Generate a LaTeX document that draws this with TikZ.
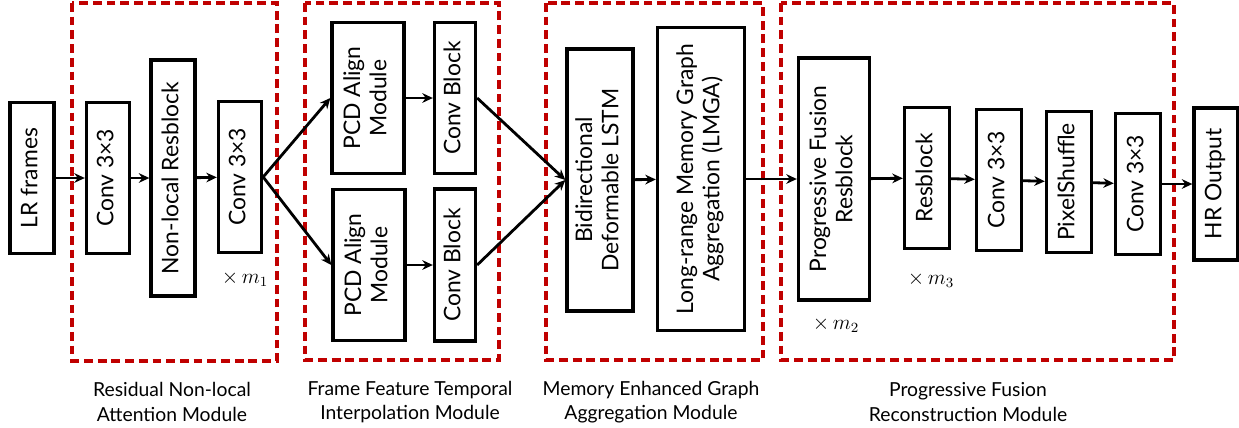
\documentclass[tikz,border=0pt]{standalone}
\usepackage{fontspec}
\setmainfont{Lato}
\usepackage{graphicx}
\usetikzlibrary{arrows.meta}
\definecolor{modred}{RGB}{192,0,0}
\newcommand{\vtext}[1]{\rotatebox{90}{\begin{tabular}{@{}c@{}}#1\end{tabular}}}
\tikzset{
  blk/.style 2 args={draw, line width=1.9pt, inner sep=0pt, minimum width=#1*0.02cm, minimum height=#2*0.02cm, font=\fontsize{13}{15}\selectfont},
  grp/.style={draw=modred, line width=1.9pt, dash pattern=on 5pt off 2.8pt},
  modname/.style={align=center, font=\fontsize{11}{14}\selectfont},
  times/.style={font=\fontsize{12}{14}\selectfont},
}

\begin{document}
\begin{tikzpicture}[>={Stealth[length=6pt,width=5.5pt]}, x=0.02cm, y=-0.02cm, line width=1.6pt]
            \useasboundingbox (0,0) rectangle (1239,427);
            % module frames
            \draw[grp] (72,3) rectangle (277,361);
            \draw[grp] (305,3) rectangle (499,360);
            \draw[grp] (546,3) rectangle (763,360);
            \draw[grp] (781,3) rectangle (1174,360);
            % blocks
            \node[blk={44}{151}] (lr) at (32,178) {\vtext{LR frames}};
            \node[blk={43}{151}] (conva) at (108,178) {\vtext{Conv 3×3}};
            \node[blk={44}{236}] (nonlocal) at (173,178) {\vtext{Non-local Resblock}};
            \node[blk={43}{151}] (convb) at (240,177) {\vtext{Conv 3×3}};
            \node[times] (ma) at (245,279) {$\times\, m_1$};
            \node[blk={72}{151}] (pcda) at (368,98) {\vtext{PCD Align\\Module}};
            \node[blk={72}{151}] (pcdb) at (369,265) {\vtext{PCD Align\\Module}};
            \node[blk={41}{151}] (cba) at (455,98) {\vtext{Conv Block}};
            \node[blk={41}{152}] (cbb) at (455,265) {\vtext{Conv Block}};
            \node[blk={66}{262}] (lstm) at (600,180) {\vtext{Bidirectional\\Deformable LSTM}};
            \node[blk={87}{303}] (lmga) at (701,179) {\vtext{Long-range Memory Graph\\Aggregation (LMGA)}};
            \node[blk={71}{242}] (pfr) at (834,179) {\vtext{Progressive Fusion\\Resblock}};
            \node[times] (mb) at (836,325) {$\times\, m_2$};
            \node[blk={45}{141}] (res) at (927,178) {\vtext{Resblock}};
            \node[times] (mc) at (931,280) {$\times\, m_3$};
            \node[blk={45}{141}] (convc) at (999,180) {\vtext{Conv 3×3}};
            \node[blk={45}{141}] (shuffle) at (1069,182) {\vtext{PixelShuffle}};
            \node[blk={45}{141}] (convd) at (1138,184) {\vtext{Conv 3×3}};
            \node[blk={44}{152}] (hr) at (1216,184) {\vtext{HR Output}};
            % connections
            \draw[->] (lr) -- (conva);
            \draw[->] (conva) -- (nonlocal);
            \draw[->] (nonlocal) -- (convb);
            \draw[->] (convb.east) -- (pcda.west);
            \draw[->] (convb.east) -- (pcdb.west);
            \draw[->] (pcda) -- (cba);
            \draw[->] (pcdb) -- (cbb);
            \draw[->] (cba.east) -- (lstm.west);
            \draw[->] (cbb.east) -- (lstm.west);
            \draw[->] (lstm) -- (lmga);
            \draw[->] (lmga) -- (pfr);
            \draw[->] (pfr) -- (res);
            \draw[->] (res) -- (convc);
            \draw[->] (convc) -- (shuffle);
            \draw[->] (shuffle) -- (convd);
            \draw[->] (convd) -- (hr);
            % module names
            \node[modname] (rnam) at (172,402) {Residual Non-local\\Attention Module};
            \node[modname] (ffti) at (410,402) {Frame Feature Temporal\\Interpolation Module};
            \node[modname] (mega) at (651,402) {Memory Enhanced Graph\\Aggregation Module};
            \node[modname] (pfrm) at (968,402) {Progressive Fusion\\Reconstruction Module};
        \end{tikzpicture}
\end{document}
